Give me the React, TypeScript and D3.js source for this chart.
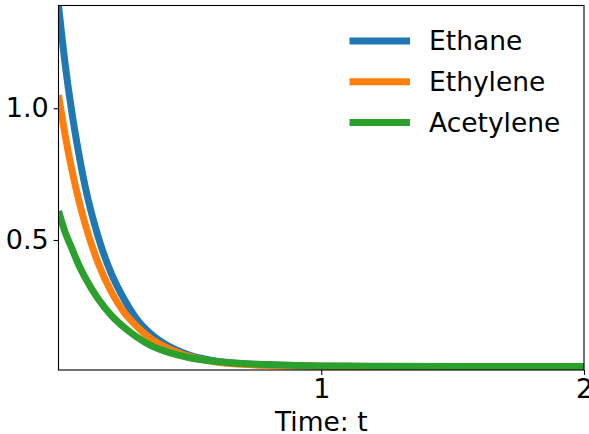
import React, { useRef, useEffect } from "react";
import * as d3 from "d3";

// time samples and concentrations
const times = [0, 0.025, 0.05, 0.075, 0.1, 0.15, 0.2, 0.25, 0.3, 0.35, 0.4, 0.5, 0.6, 0.7, 0.8, 1.0, 1.2, 1.5, 2.0];
const ethane = [1.39, 1.17, 0.99, 0.84, 0.71, 0.515, 0.375, 0.275, 0.197, 0.145, 0.108, 0.062, 0.04, 0.03, 0.025, 0.021, 0.02, 0.02, 0.02];
const ethylene = [1.05, 0.9, 0.77, 0.66, 0.565, 0.415, 0.305, 0.225, 0.17, 0.127, 0.097, 0.057, 0.037, 0.028, 0.024, 0.021, 0.02, 0.02, 0.02];
const acetylene = [0.61, 0.53, 0.47, 0.41, 0.36, 0.278, 0.215, 0.168, 0.13, 0.1, 0.08, 0.053, 0.039, 0.031, 0.027, 0.022, 0.021, 0.02, 0.02];

const seriesNames = ["Ethane", "Ethylene", "Acetylene"];
const seriesValues = [ethane, ethylene, acetylene];
const colors = ["#1f77b4", "#ff7f0e", "#2ca02c"];
const xTicks = [1, 2];
const yTicks = [0.5, 1.0];

const width = 589;
const height = 434;
const margin = { top: 5.5, right: 5, bottom: 64, left: 58.5 };

const App: React.FC = () => {
  const svgRef = useRef<SVGSVGElement>(null);

  useEffect(() => {
    if (!svgRef.current) return;
    const svg = d3.select(svgRef.current);
    svg.selectAll("*").remove();

    const x = d3.scaleLinear().domain([0, 2]).range([margin.left, width - margin.right]);
    const y = d3
      .scaleLinear()
      .domain([0.0065, 1.39])
      .range([height - margin.bottom, margin.top]);

    svg
      .append("defs")
      .append("clipPath")
      .attr("id", "plot-clip")
      .append("rect")
      .attr("x", margin.left)
      .attr("y", margin.top)
      .attr("width", width - margin.right - margin.left)
      .attr("height", height - margin.bottom - margin.top);

    const line = d3
      .line<number>()
      .x((_, i) => x(times[i]))
      .y((d) => y(d))
      .curve(d3.curveMonotoneX);

    const lines = svg.append("g").attr("clip-path", "url(#plot-clip)");
    seriesValues.forEach((vals, i) => {
      lines
        .append("path")
        .datum(vals)
        .attr("fill", "none")
        .attr("stroke", colors[i])
        .attr("stroke-width", 7)
        .attr("d", line);
    });

    // frame
    svg
      .append("rect")
      .attr("x", margin.left)
      .attr("y", margin.top)
      .attr("width", width - margin.right - margin.left)
      .attr("height", height - margin.bottom - margin.top)
      .attr("fill", "none")
      .attr("stroke", "#000")
      .attr("stroke-width", 1.1);

    const xAxis = svg
      .append("g")
      .attr("transform", `translate(0,${height - margin.bottom})`)
      .call(d3.axisBottom(x).tickValues(xTicks).tickFormat(d3.format("d")).tickSize(4.9).tickPadding(4));
    const yAxis = svg
      .append("g")
      .attr("transform", `translate(${margin.left},0)`)
      .call(d3.axisLeft(y).tickValues(yTicks).tickFormat(d3.format(".1f")).tickSize(4.9).tickPadding(4.9));

    [xAxis, yAxis].forEach((g) => {
      g.select(".domain").remove();
      g.selectAll("line").attr("stroke", "#000").attr("stroke-width", 1.1);
      g.selectAll("text")
        .attr("fill", "#000")
        .style("font-family", "DejaVu Sans")
        .style("font-size", "27px");
    });

    svg
      .append("text")
      .attr("x", x(1))
      .attr("y", 431)
      .attr("text-anchor", "middle")
      .style("font-family", "DejaVu Sans")
      .style("font-size", "26.5px")
      .text("Time: t");

    const legend = svg.append("g");
    seriesNames.forEach((name, i) => {
      const ly = 41 + i * 40.7;
      legend
        .append("line")
        .attr("x1", 349.5)
        .attr("x2", 410)
        .attr("y1", ly)
        .attr("y2", ly)
        .attr("stroke", colors[i])
        .attr("stroke-width", 7);
      legend
        .append("text")
        .attr("x", 429)
        .attr("y", ly)
        .attr("dy", "0.35em")
        .style("font-family", "DejaVu Sans")
        .style("font-size", "26.5px")
        .text(name);
    });
  }, []);

  return (
    <svg
      ref={svgRef}
      width={width}
      height={height}
      style={{ position: "absolute", left: 0, top: 0, background: "#fff" }}
    ></svg>
  );
};

export default App;
